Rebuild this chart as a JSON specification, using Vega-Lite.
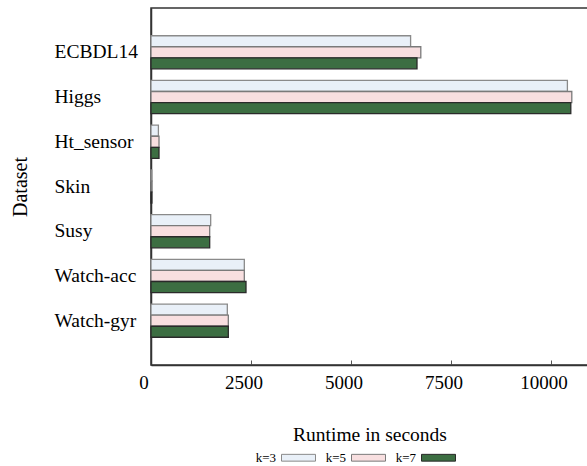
{
  "$schema": "https://vega.github.io/schema/vega-lite/v6.json",
  "autosize": "none",
  "width": 437,
  "height": 357,
  "padding": {"left": 151, "top": 8, "right": 0, "bottom": 101},
  "background": "white",
  "config": {
    "font": "Liberation Serif",
    "view": {"stroke": "#333", "strokeWidth": 1.5},
    "axis": {"labelFont": "Liberation Serif", "titleFont": "Liberation Serif", "labelColor": "black", "titleColor": "black", "titleFontWeight": "normal", "domainColor": "#333", "domainWidth": 1.5, "grid": false}
  },
  "data": {
    "values": [
      {"dataset": "ECBDL14", "k": "k=3", "runtime": 6490},
      {"dataset": "ECBDL14", "k": "k=5", "runtime": 6745},
      {"dataset": "ECBDL14", "k": "k=7", "runtime": 6650},
      {"dataset": "Higgs", "k": "k=3", "runtime": 10410},
      {"dataset": "Higgs", "k": "k=5", "runtime": 10520},
      {"dataset": "Higgs", "k": "k=7", "runtime": 10495},
      {"dataset": "Ht_sensor", "k": "k=3", "runtime": 185},
      {"dataset": "Ht_sensor", "k": "k=5", "runtime": 200},
      {"dataset": "Ht_sensor", "k": "k=7", "runtime": 200},
      {"dataset": "Skin", "k": "k=3", "runtime": 20},
      {"dataset": "Skin", "k": "k=5", "runtime": 22},
      {"dataset": "Skin", "k": "k=7", "runtime": 22},
      {"dataset": "Susy", "k": "k=3", "runtime": 1492},
      {"dataset": "Susy", "k": "k=5", "runtime": 1467},
      {"dataset": "Susy", "k": "k=7", "runtime": 1467},
      {"dataset": "Watch-acc", "k": "k=3", "runtime": 2333},
      {"dataset": "Watch-acc", "k": "k=5", "runtime": 2333},
      {"dataset": "Watch-acc", "k": "k=7", "runtime": 2375},
      {"dataset": "Watch-gyr", "k": "k=3", "runtime": 1908},
      {"dataset": "Watch-gyr", "k": "k=5", "runtime": 1933},
      {"dataset": "Watch-gyr", "k": "k=7", "runtime": 1933}
    ]
  },
  "mark": {"type": "bar", "strokeWidth": 1.3},
  "encoding": {
    "y": {
      "field": "dataset", "type": "nominal", "sort": null,
      "scale": {"paddingInner": 0.26, "paddingOuter": 0.62},
      "axis": {"title": "Dataset", "titleFontSize": 20, "labelFontSize": 19.5, "labelAlign": "left", "labelPadding": 97, "ticks": false, "titlePadding": 24}
    },
    "yOffset": {"field": "k", "type": "nominal", "scale": {"paddingInner": 0, "paddingOuter": 0}},
    "x": {
      "field": "runtime", "type": "quantitative", "stack": null,
      "scale": {"domain": [0, 10925], "nice": false, "zero": true},
      "axis": {"title": "Runtime in seconds", "titleFontSize": 19.5, "labelFontSize": 19, "format": "d", "values": [0, 2500, 5000, 7500, 10000], "tickSize": -5, "tickColor": "#555", "labelPadding": 13, "labelOffset": -7.5, "titlePadding": 33, "labelFlush": false}
    },
    "fill": {
      "field": "k", "type": "nominal",
      "scale": {"domain": ["k=3", "k=5", "k=7"], "range": ["#e9f0f8", "#f8dfe0", "#3c6e42"]},
      "legend": {"title": null, "orient": "none", "legendX": 130, "legendY": 432, "direction": "horizontal", "symbolType": "M-1,-0.2H1V0.2H-1Z", "symbolSize": 1156, "symbolStrokeColor": "#777", "symbolStrokeWidth": 1, "labelFontSize": 13, "labelFont": "Liberation Serif", "labelColor": "black", "labelAlign": "right", "labelOffset": -40, "columnPadding": 7, "symbolOpacity": 1}
    },
    "stroke": {
      "field": "k", "type": "nominal",
      "scale": {"domain": ["k=3", "k=5", "k=7"], "range": ["#8a8a8a", "#7a7a7a", "#2a2a2a"]},
      "legend": null
    }
  }
}
